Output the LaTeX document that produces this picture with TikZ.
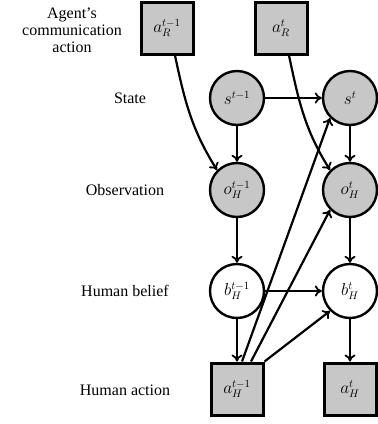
\documentclass[tikz,border=0pt]{standalone}
\usepackage{fontspec}
\setmainfont{Liberation Serif}
\usetikzlibrary{arrows.meta}
\begin{document}
\begin{tikzpicture}[x=1pt,y=-1pt,
  every node/.style={font=\fontsize{16}{19}\selectfont},
  var/.style={circle,draw,line width=2.4pt,minimum size=54pt,inner sep=0pt},
  obs/.style={var,fill=black!22},
  act/.style={rectangle,draw,line width=3pt,fill=black!22,minimum size=52pt,inner sep=0pt},
  lab/.style={align=center},
  edge/.style={draw,line width=2.2pt,-{To[length=7pt,width=11pt,line width=1.8pt]}}]
\useasboundingbox (0,0) rectangle (378,424);
% labels
\node[lab] (l1) at (72,30) {Agent's\\[-2pt]communication\\[-2pt]action};
\node[lab] (l2) at (130,98) {State};
\node[lab] (l3) at (125,190) {Observation};
\node[lab] (l4) at (125,291) {Human belief};
\node[lab] (l5) at (125,390) {Human action};
% nodes
\node[act] (ar1) at (167,28) {$a_R^{t-1}$};
\node[act] (ar2) at (281,28) {$a_R^{t}$};
\node[obs] (s1) at (237,98) {$s^{t-1}$};
\node[obs] (s2) at (350,98) {$s^{t}$};
\node[obs] (o1) at (237,190) {$o_H^{t-1}$};
\node[obs] (o2) at (350,190) {$o_H^{t}$};
\node[var] (b1) at (237,291) {$b_H^{t-1}$};
\node[var] (b2) at (350,291) {$b_H^{t}$};
\node[act] (ah1) at (237,389) {$a_H^{t-1}$};
\node[act] (ah2) at (350,389) {$a_H^{t}$};
% edges
\path[edge] (ar1.south) ++(8,0) coordinate (c1) (c1) to[out=-78,in=122] (o1.north west);
\path[edge] (ar2.south) ++(8,0) coordinate (c2) (c2) to[out=-78,in=122] (o2.north west);
\path[edge] (s1) -- (s2);
\path[edge] (s1) -- (o1);
\path[edge] (s2) -- (o2);
\path[edge] (o1) -- (b1);
\path[edge] (o2) -- (b2);
\path[edge] (b1) -- (b2);
\path[edge] (b1) -- (ah1);
\path[edge] (b2) -- (ah2);
\path[edge] (ah1.north) ++(5,0) coordinate (d1) (d1) -- (s2.south west);
\path[edge] (ah1.north) ++(14,0) coordinate (d2) (d2) -- (o2.south west);
\path[edge] (ah1.north east) -- (b2.south west);
\end{tikzpicture}
\end{document}
